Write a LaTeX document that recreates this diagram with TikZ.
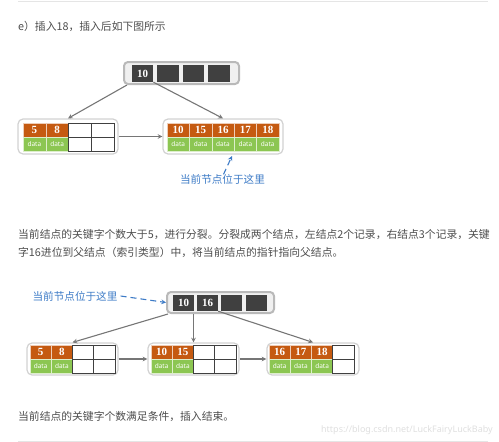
\documentclass[tikz,border=0pt]{standalone}
\usepackage{fontspec}
\usepackage{tikz}
\usepackage{xcolor}
\usetikzlibrary{
    arrows,
    shapes,
    shapes.misc
}
\setmainfont{Noto Sans CJK SC}
\newfontfamily\numfont{Liberation Serif}
\newfontfamily\datafont{Noto Sans}

\definecolor{keyorange}{RGB}{197,90,17}
\definecolor{datagreen}{RGB}{140,198,82}
\definecolor{darkcell}{RGB}{64,64,64}
\definecolor{arrowgray}{RGB}{118,118,118}
\definecolor{noteblue}{RGB}{61,123,198}
\definecolor{textgray}{RGB}{77,77,77}

\tikzset{
    keycell/.style={draw=white!70!keyorange, line width=0.4pt, fill=keyorange, text=white, minimum width=#1, minimum height=14pt, inner sep=0pt, font=\numfont\bfseries\fontsize{11}{11}\selectfont},
    keycell/.default=22.5pt,
    datacell/.style={draw=white!70!datagreen, line width=0.4pt, fill=datagreen, text=white, minimum width=#1, minimum height=14pt, inner sep=0pt, font=\datafont\fontsize{6.5}{6.5}\selectfont},
    datacell/.default=22.5pt,
    emptycell/.style={draw=black!75, line width=0.8pt, fill=white, minimum width=#1, minimum height=14pt, inner sep=0pt},
    emptycell/.default=22.5pt,
    leafbox/.style={draw=gray!35, line width=1.2pt, rounded corners=5pt, fill=white, inner sep=0pt},
    rootbar/.style={draw=gray!55, line width=2pt, rounded corners=4pt, fill=gray!12, inner sep=0pt},
    rootcell/.style={fill=darkcell, text=white, minimum width=21.5pt, minimum height=17pt, inner sep=0pt, font=\numfont\bfseries\fontsize{11}{11}\selectfont},
    link/.style={->, >=stealth, draw=arrowgray, line width=1.1pt},
    pointer/.style={text=noteblue, inner sep=0pt, font=\fontsize{10.6}{12}\selectfont},
    pointerline/.style={->, >=stealth, draw=noteblue, line width=1.1pt, dash pattern=on 6pt off 4pt},
    para/.style={anchor=west, text=textgray, inner sep=0pt, font=\fontsize{10.8}{12}\selectfont},
    watermark/.style={anchor=east, text=gray!25, inner sep=0pt, font=\datafont\fontsize{9}{10}\selectfont},
    rulegray/.style={draw=gray!20, line width=1pt}
}

\begin{document}
\begin{tikzpicture}[x=1pt, y=-1pt]
            \useasboundingbox (0,0) rectangle (499,442);
            \draw[rulegray] (18,1) -- (488,1);
            \draw[rulegray] (18,441.5) -- (488,441.5);

            \node[para] (title) at (18,26) {e）插入18，插入后如下图所示};

            \node[rootbar, minimum width=115pt, minimum height=22pt] (rootA) at (181.5,73) {};
            \node[rootcell] (rootA1) at (142.5,73.5) {10};
            \node[rootcell] (rootA2) at (168,73.5) {};
            \node[rootcell] (rootA3) at (193.5,73.5) {};
            \node[rootcell] (rootA4) at (219,73.5) {};

            \node[leafbox, minimum width=100pt, minimum height=35pt] (leafA) at (68,136.5) {};
            \node[keycell=22.75pt] (leafA1) at (34.4,130) {5};
            \node[keycell=22.75pt] (leafA2) at (57.1,130) {8};
            \node[emptycell=22.75pt] (leafA3) at (79.9,130) {};
            \node[emptycell=22.75pt] (leafA4) at (102.6,130) {};
            \node[datacell=22.75pt] (dataA1) at (34.4,144) {data};
            \node[datacell=22.75pt] (dataA2) at (57.1,144) {data};
            \node[emptycell=22.75pt] (dataA3) at (79.9,144) {};
            \node[emptycell=22.75pt] (dataA4) at (102.6,144) {};

            \node[leafbox, minimum width=120pt, minimum height=35pt] (leafB) at (223,136.5) {};
            \node[keycell=22.4pt] (leafB1) at (178.2,130) {10};
            \node[keycell=22.4pt] (leafB2) at (200.6,130) {15};
            \node[keycell=22.4pt] (leafB3) at (223,130) {16};
            \node[keycell=22.4pt] (leafB4) at (245.4,130) {17};
            \node[keycell=22.4pt] (leafB5) at (267.8,130) {18};
            \node[datacell=22.4pt] (dataB1) at (178.2,144) {data};
            \node[datacell=22.4pt] (dataB2) at (200.6,144) {data};
            \node[datacell=22.4pt] (dataB3) at (223,144) {data};
            \node[datacell=22.4pt] (dataB4) at (245.4,144) {data};
            \node[datacell=22.4pt] (dataB5) at (267.8,144) {data};

            \draw[link] ([xshift=4pt]rootA.south west) -- (leafA.north);
            \draw[link] (rootA1.south east) -- (leafB.north);
            \draw[link] (leafA.east) -- (leafB.west);

            \node[pointer] (noteA) at (222.5,179.5) {当前节点位于这里};
            \coordinate (hereA) at (232,156);
            \draw[pointerline] ([xshift=1pt]noteA.north) -- (hereA);

            \node[para] (lineA) at (18,234.5) {当前结点的关键字个数大于5，进行分裂。分裂成两个结点，左结点2个记录，右结点3个记录，关键};
            \node[para] (lineB) at (18,252.5) {字16进位到父结点（索引类型）中，将当前结点的指针指向父结点。};

            \node[rootbar, minimum width=107pt, minimum height=21pt] (rootB) at (220.5,302.5) {};
            \node[rootcell, minimum width=21pt, minimum height=16pt] (rootB1) at (183.5,303) {10};
            \node[rootcell, minimum width=21pt, minimum height=16pt] (rootB2) at (207.5,303) {16};
            \node[rootcell, minimum width=21pt, minimum height=16pt] (rootB3) at (231.5,303) {};
            \node[rootcell, minimum width=21pt, minimum height=16pt] (rootB4) at (256,303) {};

            \node[pointer] (noteB) at (75,296) {当前节点位于这里};
            \draw[pointerline] ([xshift=3pt]noteB.east) -- (rootB.west);

            \node[leafbox, minimum width=91pt, minimum height=32pt] (leafC) at (72.5,359) {};
            \node[keycell=21.25pt] (leafC1) at (40.6,352) {5};
            \node[keycell=21.25pt] (leafC2) at (61.9,352) {8};
            \node[emptycell=21.25pt] (leafC3) at (83.1,352) {};
            \node[emptycell=21.25pt] (leafC4) at (104.4,352) {};
            \node[datacell=21.25pt] (dataC1) at (40.6,366) {data};
            \node[datacell=21.25pt] (dataC2) at (61.9,366) {data};
            \node[emptycell=21.25pt] (dataC3) at (83.1,366) {};
            \node[emptycell=21.25pt] (dataC4) at (104.4,366) {};

            \node[leafbox, minimum width=91pt, minimum height=32pt] (leafD) at (193.5,359) {};
            \node[keycell=21.25pt] (leafD1) at (161.6,352) {10};
            \node[keycell=21.25pt] (leafD2) at (182.9,352) {15};
            \node[emptycell=21.25pt] (leafD3) at (204.1,352) {};
            \node[emptycell=21.25pt] (leafD4) at (225.4,352) {};
            \node[datacell=21.25pt] (dataD1) at (161.6,366) {data};
            \node[datacell=21.25pt] (dataD2) at (182.9,366) {data};
            \node[emptycell=21.25pt] (dataD3) at (204.1,366) {};
            \node[emptycell=21.25pt] (dataD4) at (225.4,366) {};

            \node[leafbox, minimum width=92pt, minimum height=32pt] (leafE) at (313,359) {};
            \node[keycell=21.25pt] (leafE1) at (279.6,352) {16};
            \node[keycell=21.25pt] (leafE2) at (300.9,352) {17};
            \node[keycell=21.25pt] (leafE3) at (322.1,352) {18};
            \node[emptycell=21.25pt] (leafE4) at (343.4,352) {};
            \node[datacell=21.25pt] (dataE1) at (279.6,366) {data};
            \node[datacell=21.25pt] (dataE2) at (300.9,366) {data};
            \node[datacell=21.25pt] (dataE3) at (322.1,366) {data};
            \node[emptycell=21.25pt] (dataE4) at (343.4,366) {};

            \draw[link] ([xshift=2pt]rootB.south west) -- (leafC.north);
            \draw[link] (rootB.south -| leafD.north) -- (leafD.north);
            \draw[link] (rootB2.south east) -- (leafE.north);
            \draw[link] (leafC.east) -- (leafD.west);
            \draw[link] (leafD.east) -- (leafE.west);

            \node[para] (lineC) at (18,417) {当前结点的关键字个数满足条件，插入结束。};
            \node[watermark] (site) at (493,430) {https://blog.csdn.net/LuckFairyLuckBaby};
\end{tikzpicture}
\end{document}
